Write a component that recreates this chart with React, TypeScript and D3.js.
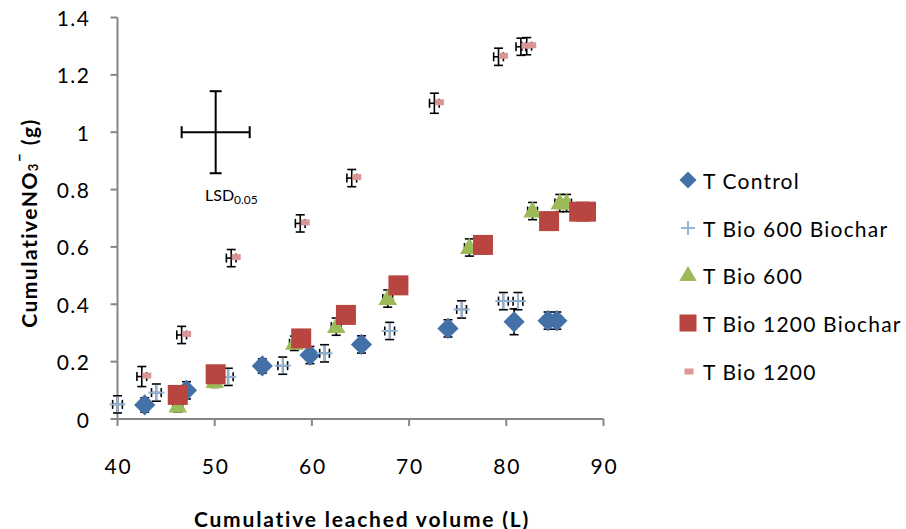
import React from "react";
import * as d3 from "d3";

const xTicks = [40, 50, 60, 70, 80, 90];
const yTicks = [0, 0.2, 0.4, 0.6, 0.8, 1, 1.2, 1.4];
const yTickLabels = ["0", "0.2", "0.4", "0.6", "0.8", "1", "1.2", "1.4"];

const seriesNames = ["T Control", "T Bio 600 Biochar", "T Bio 600", "T Bio 1200 Biochar", "T Bio 1200"];

const controlX = [42.8, 47.1, 54.9, 59.8, 65.1, 74.0, 80.8, 84.3, 85.2];
const controlY = [0.049, 0.1, 0.185, 0.223, 0.26, 0.316, 0.339, 0.343, 0.343];
const controlErr = [0.025, 0.03, 0.025, 0.03, 0.03, 0.03, 0.045, 0.03, 0.03];

const bio600bcX = [40.0, 44.0, 51.4, 57.0, 61.3, 68.0, 75.4, 79.7, 81.2];
const bio600bcY = [0.051, 0.092, 0.147, 0.186, 0.229, 0.307, 0.382, 0.411, 0.411];
const bio600bcErr = [0.03, 0.03, 0.03, 0.03, 0.03, 0.03, 0.03, 0.03, 0.03];

const bio600X = [46.2, 50.0, 58.2, 62.5, 67.8, 76.2, 82.7, 85.5, 86.2];
const bio600Y = [0.045, 0.13, 0.264, 0.322, 0.42, 0.598, 0.725, 0.753, 0.753];
const bio600Err = [0.02, 0.02, 0.025, 0.03, 0.03, 0.03, 0.03, 0.03, 0.03];

const bio1200bcX = [46.2, 50.1, 58.9, 63.5, 68.9, 77.6, 84.4, 87.5, 88.2];
const bio1200bcY = [0.084, 0.156, 0.281, 0.363, 0.466, 0.607, 0.69, 0.723, 0.723];
const bio1200bcErr = [0.025, 0.025, 0.03, 0.03, 0.03, 0.03, 0.03, 0.03, 0.03];

const bio1200X = [42.5, 46.6, 51.7, 58.8, 64.1, 72.6, 79.2, 81.5, 82.1];
const bio1200Y = [0.148, 0.293, 0.561, 0.682, 0.84, 1.101, 1.263, 1.298, 1.3];
const bio1200Err = [0.035, 0.03, 0.03, 0.03, 0.03, 0.035, 0.03, 0.03, 0.03];

const X_ERR = 0.5;

const lsdX = 50.1;
const lsdY = 1.0;
const lsdXErr = 3.5;
const lsdYErr = 0.143;

const x = d3.scaleLinear().domain([40, 90]).range([117.5, 603.5]);
const y = d3.scaleLinear().domain([0, 1.4]).range([419, 17.5]);

const FONT = "Lato, 'Open Sans', sans-serif";
const AXIS = "#868686";

const COL_DIAMOND = "#4470A8";
const COL_PLUS = "#95B3D7";
const COL_TRI = "#9BBB59";
const COL_SQ = "#B8453F";
const COL_DASH = "#D99694";

const squarePath = (size: number) => d3.symbol().type(d3.symbolSquare).size(size * size)()!;
const triPath = (size: number) => d3.symbol().type(d3.symbolTriangle).size(size)()!;

function ErrBar({ cx, cy, ex, ey }: { cx: number; cy: number; ex: number; ey: number }) {
  const px = x(cx), py = y(cy);
  const x0 = x(cx - ex), x1 = x(cx + ex);
  const y0 = y(cy - ey), y1 = y(cy + ey);
  const c = 4.5;
  return (
    <g stroke="#000" strokeWidth={1.6} fill="none">
      <line x1={px} x2={px} y1={y0} y2={y1} />
      <line x1={px - c} x2={px + c} y1={y0} y2={y0} />
      <line x1={px - c} x2={px + c} y1={y1} y2={y1} />
      <line x1={x0} x2={x1} y1={py} y2={py} />
      <line x1={x0} x2={x0} y1={py - c} y2={py + c} />
      <line x1={x1} x2={x1} y1={py - c} y2={py + c} />
    </g>
  );
}

function Diamond({ cx, cy, s }: { cx: number; cy: number; s: number }) {
  return <path d={squarePath(s)} transform={`translate(${cx},${cy}) rotate(45)`} fill={COL_DIAMOND} />;
}
function Plus({ cx, cy, s }: { cx: number; cy: number; s: number }) {
  return (
    <g stroke={COL_PLUS} strokeWidth={2}>
      <line x1={cx - s} x2={cx + s} y1={cy} y2={cy} />
      <line x1={cx} x2={cx} y1={cy - s} y2={cy + s} />
    </g>
  );
}
function Tri({ cx, cy, s }: { cx: number; cy: number; s: number }) {
  return <path d={triPath(s)} transform={`translate(${cx},${cy + 1})`} fill={COL_TRI} />;
}
function Sq({ cx, cy, s }: { cx: number; cy: number; s: number }) {
  return <path d={squarePath(s)} transform={`translate(${cx},${cy})`} fill={COL_SQ} />;
}
function Dash({ cx, cy, w, h }: { cx: number; cy: number; w: number; h: number }) {
  return <rect x={cx - w / 2} y={cy - h / 2} width={w} height={h} fill={COL_DASH} />;
}

export default function App() {
  const errLayer = (xs: number[], ys: number[], es: number[], key: string) =>
    xs.map((v, i) => <ErrBar key={key + i} cx={v} cy={ys[i]} ex={X_ERR} ey={es[i]} />);

  const legendY = [180, 228, 275, 323, 371.5];
  const legendMX = 688;
  const legendTX = 703;

  return (
    <svg width={906} height={529} style={{ position: "absolute", left: 0, top: 0, background: "#fff" }} fontFamily={FONT}>
      <rect width={906} height={529} fill="#fff" />
      {/* axes */}
      <g stroke={AXIS} strokeWidth={2}>
        <line x1={x(40)} x2={x(40)} y1={y(1.4)} y2={y(0)} />
        <line x1={x(40)} x2={x(90)} y1={y(0)} y2={y(0)} />
        {yTicks.map((t) => (
          <line key={"yt" + t} x1={x(40) - 7} x2={x(40)} y1={y(t)} y2={y(t)} />
        ))}
        {xTicks.map((t) => (
          <line key={"xt" + t} x1={x(t)} x2={x(t)} y1={y(0)} y2={y(0) + 7} />
        ))}
      </g>
      {yTicks.map((t, i) => (
        <text key={"yl" + t} x={x(40) - 27} y={y(t)} textAnchor="end" dominantBaseline="central" fontSize={21} letterSpacing={1.5} fill="#000">
          {yTickLabels[i]}
        </text>
      ))}
      {xTicks.map((t) => (
        <text key={"xl" + t} x={x(t) + 1} y={y(0) + 46} textAnchor="middle" dominantBaseline="central" fontSize={21} letterSpacing={1.8} fill="#000">
          {t}
        </text>
      ))}
      {/* axis titles */}
      <text x={362} y={518} textAnchor="middle" dominantBaseline="central" fontSize={21} fontWeight="bold" letterSpacing={1.8} fill="#000">
        Cumulative leached volume (L)
      </text>
      <text transform="translate(28,223) rotate(-90)" textAnchor="middle" dominantBaseline="central" fontSize={21} fontWeight="bold" letterSpacing={1.5} fill="#000">
        CumulativeNO<tspan fontSize={13} dy={5}>3</tspan>
        <tspan fontSize={15} dy={-14}>−</tspan>
        <tspan dy={9}> (g)</tspan>
      </text>

      {/* series: T Control */}
      {errLayer(controlX, controlY, controlErr, "ce")}
      {controlX.map((v, i) => (
        <Diamond key={"c" + i} cx={x(v)} cy={y(controlY[i])} s={15} />
      ))}
      {/* T Bio 600 Biochar */}
      {errLayer(bio600bcX, bio600bcY, bio600bcErr, "pe")}
      {bio600bcX.map((v, i) => (
        <Plus key={"p" + i} cx={x(v)} cy={y(bio600bcY[i])} s={8} />
      ))}
      {/* T Bio 600 */}
      {errLayer(bio600X, bio600Y, bio600Err, "te")}
      {bio600X.map((v, i) => (
        <Tri key={"t" + i} cx={x(v)} cy={y(bio600Y[i])} s={150} />
      ))}
      {/* T Bio 1200 Biochar */}
      {errLayer(bio1200bcX, bio1200bcY, bio1200bcErr, "se")}
      {bio1200bcX.map((v, i) => (
        <Sq key={"s" + i} cx={x(v)} cy={y(bio1200bcY[i])} s={20} />
      ))}
      {/* T Bio 1200 */}
      {errLayer(bio1200X, bio1200Y, bio1200Err, "de")}
      {bio1200X.map((v, i) => (
        <Dash key={"d" + i} cx={x(v) + 5} cy={y(bio1200Y[i]) - 1} w={9} h={6} />
      ))}

      {/* LSD */}
      <g stroke="#000" strokeWidth={2}>
        <line x1={x(lsdX)} x2={x(lsdX)} y1={y(lsdY - lsdYErr)} y2={y(lsdY + lsdYErr)} />
        <line x1={x(lsdX) - 6} x2={x(lsdX) + 6} y1={y(lsdY - lsdYErr)} y2={y(lsdY - lsdYErr)} />
        <line x1={x(lsdX) - 6} x2={x(lsdX) + 6} y1={y(lsdY + lsdYErr)} y2={y(lsdY + lsdYErr)} />
        <line x1={x(lsdX - lsdXErr)} x2={x(lsdX + lsdXErr)} y1={y(lsdY)} y2={y(lsdY)} />
        <line x1={x(lsdX - lsdXErr)} x2={x(lsdX - lsdXErr)} y1={y(lsdY) - 6} y2={y(lsdY) + 6} />
        <line x1={x(lsdX + lsdXErr)} x2={x(lsdX + lsdXErr)} y1={y(lsdY) - 6} y2={y(lsdY) + 6} />
      </g>
      <text x={205} y={201} fontSize={16} fill="#000">
        LSD<tspan fontSize={12} dy={3}>0.05</tspan>
      </text>

      {/* legend */}
      <Diamond cx={legendMX} cy={legendY[0]} s={12} />
      <Plus cx={legendMX} cy={legendY[1]} s={7} />
      <Tri cx={legendMX} cy={legendY[2]} s={130} />
      <Sq cx={legendMX} cy={legendY[3]} s={17} />
      <Dash cx={legendMX + 1} cy={legendY[4]} w={9} h={6} />
      {seriesNames.map((n, i) => (
        <text key={"lg" + i} x={legendTX} y={legendY[i]} dominantBaseline="central" fontSize={21} letterSpacing={1.2} fill="#000">
          {n}
        </text>
      ))}
    </svg>
  );
}
